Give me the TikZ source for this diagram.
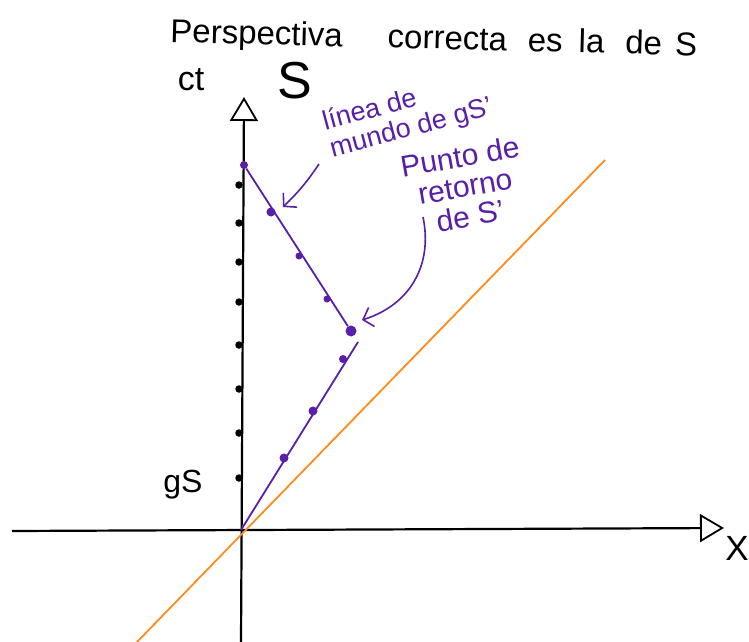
\documentclass[tikz,border=0pt]{standalone}
\usepackage{fontspec}
\setmainfont{Liberation Sans}
\usetikzlibrary{arrows.meta}
\definecolor{wlpurple}{RGB}{88,32,168}
\definecolor{lorange}{RGB}{255,140,26}
\begin{document}
\begin{tikzpicture}[x=1pt,y=-1pt,
  axisline/.style={line width=2.2pt, black, -{Triangle[open,length=24pt,width=28pt,line width=1.8pt]}},
  wline/.style={line width=1.8pt, wlpurple},
  pdot/.style={circle, fill=wlpurple, inner sep=0pt, minimum size=11pt},
  axtick/.style={circle, fill=black, inner sep=0pt, minimum size=7.5pt},
  ptick/.style={circle, fill=wlpurple, inner sep=0pt, minimum size=9pt},
  hand/.style={inner sep=0pt},
  note/.style={text=wlpurple, inner sep=0pt},
  callout/.style={wlpurple, line width=1.6pt, -{Straight Barb[length=9pt,width=20pt,line width=1.6pt]}},
]
\useasboundingbox (0,0) rectangle (749,642);
\fill[white] (0,0) rectangle (749,642);

% axes
\coordinate (O) at (241,530);
\coordinate (ctBot) at (241,642);
\coordinate (ctTop) at (244,97);
\coordinate (xL) at (12,531);
\coordinate (xR) at (724,528);
\draw[axisline] (ctBot) -- (ctTop);
\draw[axisline] (xL) -- (xR);

% light line
\coordinate (lBot) at (137,642);
\coordinate (lTop) at (605,160);
\draw[lorange, line width=1.8pt] (lBot) -- (lTop);

% ticks on ct axis
\foreach \yy [count=\i] in {185,223,262,302,345,389,433,478}
  \node[axtick] (t\i) at (239,\yy) {};

% world line of gS'
\node[pdot, minimum size=8pt] (A) at (244,165) {};
\node[pdot] (R) at (351,331) {};
\coordinate (B) at (358,342);
\draw[wline] (A) -- (R);
\draw[wline] (O) -- (B);
\node[ptick] (a1) at (271,212) {};
\node[ptick, minimum size=7pt] (a2) at (299,256) {};
\node[ptick, minimum size=7pt] (a3) at (327,299) {};
\node[ptick] (b1) at (284,458) {};
\node[ptick] (b2) at (313,411) {};
\node[ptick, minimum size=8pt] (b3) at (343,359) {};

% titles and labels
\node[hand, anchor=base west, rotate=-1.5, font=\fontsize{33}{36}\selectfont] (title) at (170,42)
  {Perspectiva\hspace{45pt}correcta\hspace{21pt}es\hspace{16pt}la\hspace{21pt}de\hspace{13pt}S};
\node[hand, font=\fontsize{34}{36}\selectfont, anchor=base] (ct) at (191,90) {ct};
\node[hand, font=\fontsize{52}{54}\selectfont, anchor=base] (S) at (295,98) {S};
\node[hand, font=\fontsize{32}{34}\selectfont, anchor=base] (gS) at (183,492) {gS};
\node[hand, font=\fontsize{35}{36}\selectfont, anchor=base] (X) at (737,560) {X};

\node[note, rotate=15, anchor=west, align=left, font=\fontsize{27}{28}\selectfont] (n1) at (327,137)
  {línea de\\mundo de gS'};
\node[note, rotate=10, align=center, font=\fontsize{30}{30}\selectfont] (p1) at (465,186)
  {Punto de\\retorno\\de S'};

% callouts
\coordinate (c1s) at (319,164);
\coordinate (c1e) at (283,207);
\draw[callout] (c1s) to[bend left=6] (c1e);
\coordinate (c2s) at (423,217);
\coordinate (c2e) at (362,320);
\draw[callout] (c2s) .. controls (433,265) and (410,305) .. (c2e);
\end{tikzpicture}
\end{document}
